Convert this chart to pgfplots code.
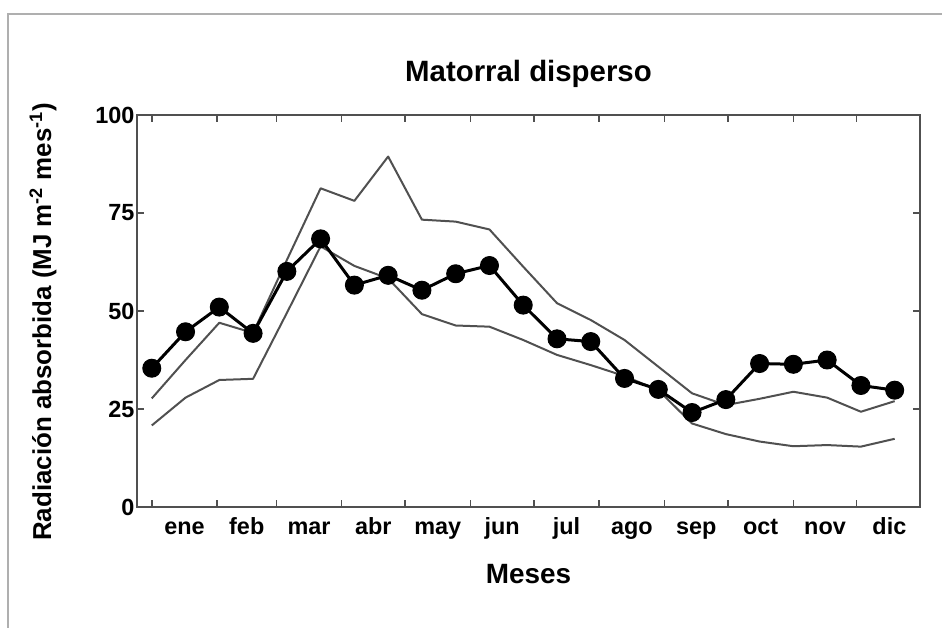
\documentclass[border=0pt]{standalone}
\usepackage{fontspec}
\setmainfont{Liberation Sans}
\usepackage{pgfplots}
\pgfplotsset{compat=1.18}
\usepackage{pgfplotstable}
\definecolor{axgray}{RGB}{80,80,80}
\definecolor{linegray}{RGB}{80,80,80}
\definecolor{framegray}{RGB}{175,175,175}
\pgfplotstableread{
day mean upper lower
1   35.4 27.7 20.8
17  44.7 37.5 27.9
33  51.0 47.0 32.4
49  44.3 44.4 32.7
65  60.1 63.0 49.5
81  68.4 81.3 66.5
97  56.6 78.1 61.5
113 59.1 89.4 58.3
129 55.3 73.3 49.2
145 59.5 72.8 46.3
161 61.6 70.8 46.0
177 51.5 61.3 42.6
193 42.9 52.0 38.8
209 42.2 47.7 36.2
225 32.8 42.6 33.4
241 30.0 35.8 29.8
257 24.1 29.0 21.3
273 27.4 26.0 18.6
289 36.6 27.6 16.7
305 36.4 29.4 15.5
321 37.5 27.9 15.8
337 31.0 24.3 15.4
353 29.8 27.0 17.4
}\datatable
\begin{document}
\begin{tikzpicture}
\useasboundingbox (0,0) rectangle (942bp,628bp);
\draw[framegray, line width=1.5bp] (8bp,0) -- (8bp,614bp) -- (942bp,614bp);
\begin{axis}[
  at={(137bp,121bp)}, anchor=south west,
  scale only axis, width=783bp, height=392bp,
  xmin=-6, xmax=365, ymin=0, ymax=100,
  xtick={1,32,60,91,121,152,182,213,244,274,305,335},
  xticklabels={},
  extra x ticks={16.5,46,75.5,106,136.5,167,197.5,228.5,259,289.5,320,350.5},
  extra x tick labels={ene,feb,mar,abr,may,jun,jul,ago,sep,oct,nov,dic},
  extra x tick style={major tick length=0pt, xticklabel style={anchor=base, yshift=-28bp}},
  ytick={0,25,50,75,100},
  yticklabel style={xshift=1bp},
  tick align=inside,
  major tick length=7bp,
  axis line style={axgray, line width=1.9bp},
  tick style={axgray, line width=1.5bp},
  tick label style={font=\fontsize{23.5}{26}\selectfont\bfseries, text=black},
  /pgf/number format/assume math mode=true,
  title={Matorral disperso},
  every axis title/.style={at={(axis description cs:0.5,1)}, anchor=base, yshift=33bp, font=\fontsize{29.5}{32}\selectfont\bfseries},
  xlabel={Meses},
  every axis x label/.style={at={(axis description cs:0.5,0)}, anchor=base, yshift=-76bp, font=\fontsize{28}{32}\selectfont\bfseries},
  ylabel={Radiación absorbida (MJ m\textsuperscript{-2} mes\textsuperscript{-1})},
  every axis y label/.style={at={(axis description cs:0,0.5)}, xshift=-94bp, yshift=-11bp, rotate=90, anchor=center, font=\fontsize{26}{28}\selectfont\bfseries},
]
\addplot[linegray, line width=2bp, line join=round] table[x=day,y=upper]{\datatable};
\addplot[linegray, line width=2bp, line join=round] table[x=day,y=lower]{\datatable};
\addplot[black, line width=3bp, line join=round, mark=*, mark size=9bp, mark options={fill=black, line width=1bp}] table[x=day,y=mean]{\datatable};
\end{axis}
\end{tikzpicture}
\end{document}
